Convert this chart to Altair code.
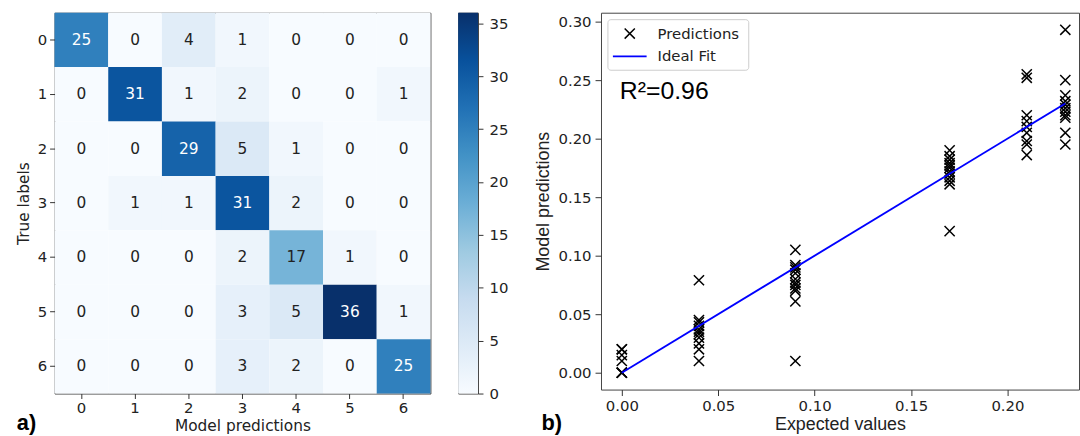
import altair as alt
import pandas as pd

# ---------------- data ----------------
class_labels = [0, 1, 2, 3, 4, 5, 6]
confusion = [
    [25, 0, 4, 1, 0, 0, 0],
    [0, 31, 1, 2, 0, 0, 1],
    [0, 0, 29, 5, 1, 0, 0],
    [0, 1, 1, 31, 2, 0, 0],
    [0, 0, 0, 2, 17, 1, 0],
    [0, 0, 0, 3, 5, 36, 1],
    [0, 0, 0, 3, 2, 0, 25],
]
cbar_max = 36
cbar_ticks = [0, 5, 10, 15, 20, 25, 30, 35]
blues = ["#f7fbff", "#deebf7", "#c6dbef", "#9ecae1", "#6baed6",
         "#4292c6", "#2171b5", "#08519c", "#08306b"]

expected_levels = [0.0, 0.04, 0.09, 0.17, 0.21, 0.23]
pred_000 = [0.0, 0.0, 0.0, 0.01, 0.015, 0.02, 0.02]
pred_004 = [0.079, 0.045, 0.043, 0.04, 0.037, 0.035, 0.033, 0.03, 0.025, 0.02, 0.01]
pred_009 = [0.105, 0.092, 0.09, 0.088, 0.085, 0.08, 0.077, 0.075, 0.072, 0.07, 0.061, 0.01]
pred_017 = [0.19, 0.185, 0.182, 0.179, 0.177, 0.175, 0.172, 0.17, 0.167, 0.164, 0.161, 0.121]
pred_021 = [0.255, 0.252, 0.22, 0.215, 0.21, 0.205, 0.198, 0.195, 0.186]
pred_023 = [0.293, 0.25, 0.237, 0.232, 0.229, 0.226, 0.223, 0.22, 0.218, 0.205, 0.195]
fit_x = [0.0, 0.23]
fit_y = [0.0, 0.23]
x_ticks = [0.0, 0.05, 0.10, 0.15, 0.20]
y_ticks = [0.0, 0.05, 0.10, 0.15, 0.20, 0.25, 0.30]
r2_text = "R²=0.96"

# ---------------- tables ----------------
cm_df = pd.DataFrame(
    [{"true": t, "pred": p, "n": confusion[t][p]} for t in class_labels for p in class_labels]
)
groups = [pred_000, pred_004, pred_009, pred_017, pred_021, pred_023]
sc_df = pd.DataFrame(
    [{"expected": e, "predicted": v} for e, g in zip(expected_levels, groups) for v in g]
)
fit_df = pd.DataFrame({"x": fit_x, "y": fit_y})
one = pd.DataFrame({"k": [0]})

TXT = "#222222"
DV = "DejaVu Sans"
LS = "Liberation Sans"

# ---------------- confusion matrix ----------------
color_scale = alt.Scale(domain=[cbar_max * i / 8 for i in range(9)], range=blues, interpolate="rgb")
x_cm = alt.X("pred:O", scale=alt.Scale(paddingInner=0, paddingOuter=0),
             axis=alt.Axis(title="Model predictions", labelAngle=0, tickSize=5, labelPadding=2,
                           titlePadding=3, titleFontSize=15.5))
y_cm = alt.Y("true:O", scale=alt.Scale(paddingInner=0, paddingOuter=0),
             axis=alt.Axis(title="True labels", tickSize=5, labelPadding=3, titlePadding=6,
                           titleFontSize=15.5))
cm_base = alt.Chart(cm_df)
cells = cm_base.mark_rect().encode(
    x=x_cm, y=y_cm, color=alt.Color("n:Q", scale=color_scale, legend=None)
)
annots = cm_base.mark_text(font=DV, fontSize=15.5).encode(
    x="pred:O", y="true:O", text="n:Q",
    color=alt.condition("datum.n > 18", alt.value("white"), alt.value(TXT)),
)
tag_a = alt.Chart(one).mark_text(font=LS, fontSize=22, fontWeight="bold", align="left",
                                 baseline="alphabetic", color="black").encode(
    text=alt.value("a)"), x=alt.value(-38), y=alt.value(421)
)
heat = alt.layer(cells, annots, tag_a).properties(width=379, height=384)

# ---------------- colorbar ----------------
grad = alt.LinearGradient(
    gradient="linear",
    stops=[alt.GradientStop(offset=i / 8, color=c) for i, c in enumerate(blues)],
    x1=0, x2=0, y1=1, y2=0,
)
cbar = alt.Chart(pd.DataFrame({"lo": [0], "hi": [cbar_max]})).mark_rect(fill=grad).encode(
    x=alt.value(0), x2=alt.value(20),
    y=alt.Y("lo:Q", scale=alt.Scale(domain=[0, cbar_max], nice=False, zero=False),
            axis=alt.Axis(orient="right", values=cbar_ticks, title=None, tickSize=5,
                          labelPadding=6)),
    y2="hi:Q",
).properties(width=20, height=384)

# ---------------- scatter ----------------
X_PATH = "M-1,-1L1,1M-1,1L1,-1"
xs = alt.Scale(domain=[-0.0108, 0.2371], nice=False, zero=False)
ys = alt.Scale(domain=[-0.0144, 0.3076], nice=False, zero=False)
pts = alt.Chart(sc_df).mark_point(shape=X_PATH, filled=False, stroke="black", strokeWidth=1.5,
                                  size=105, opacity=1).encode(
    x=alt.X("expected:Q", scale=xs,
            axis=alt.Axis(title="Expected values", values=x_ticks, format=".2f", tickSize=6,
                          labelPadding=3, titlePadding=2, titleFont=LS, titleFontSize=18)),
    y=alt.Y("predicted:Q", scale=ys,
            axis=alt.Axis(title="Model predictions", values=y_ticks, format=".2f", tickSize=6,
                          labelPadding=4, titlePadding=6, titleFont=LS, titleFontSize=18)),
)
fit = alt.Chart(fit_df).mark_line(color="blue", strokeWidth=1.9).encode(x="x:Q", y="y:Q")

leg_box = alt.Chart(one).mark_rect(fill="white", fillOpacity=0.85, stroke="#cccccc",
                                   strokeWidth=1, cornerRadius=3).encode(
    x=alt.value(7), x2=alt.value(149), y=alt.value(7), y2=alt.value(58)
)
leg_sym = alt.Chart(one).mark_point(shape=X_PATH, filled=False, stroke="black",
                                    strokeWidth=1.5, size=105, opacity=1).encode(
    x=alt.value(29), y=alt.value(21)
)
leg_line = alt.Chart(one).mark_rule(color="blue", strokeWidth=1.9).encode(
    x=alt.value(12), x2=alt.value(46), y=alt.value(44)
)
leg_t1 = alt.Chart(one).mark_text(font=DV, fontSize=15, align="left", baseline="middle",
                                  color=TXT).encode(
    text=alt.value("Predictions"), x=alt.value(57), y=alt.value(21)
)
leg_t2 = alt.Chart(one).mark_text(font=DV, fontSize=15, align="left", baseline="middle",
                                  color=TXT).encode(
    text=alt.value("Ideal Fit"), x=alt.value(57), y=alt.value(44)
)
r2 = alt.Chart(one).mark_text(font=LS, fontSize=25, align="left", baseline="alphabetic",
                              color="black").encode(
    text=alt.value(r2_text), x=alt.value(19), y=alt.value(87)
)
tag_b = alt.Chart(one).mark_text(font=LS, fontSize=22, fontWeight="bold", align="left",
                                 baseline="alphabetic", color="black").encode(
    text=alt.value("b)"), x=alt.value(-60), y=alt.value(421)
)
scatter = alt.layer(pts, fit, leg_box, leg_sym, leg_line, leg_t1, leg_t2, r2, tag_b).properties(
    width=482, height=380
)

left = alt.hconcat(heat, cbar, spacing=26)
chart = (
    alt.hconcat(left, scatter, spacing=25)
    .properties(padding={"left": 15, "top": 10, "right": 0, "bottom": 0})
    .configure_view(stroke="#444444", strokeWidth=1)
    .configure_axis(domain=False, grid=False, tickColor="#333333", labelColor=TXT,
                    titleColor=TXT, labelFont=DV, labelFontSize=15, titleFont=DV,
                    titleFontWeight="normal")
)
chart.save("out.html", embed_options={"renderer": "svg", "actions": False})
